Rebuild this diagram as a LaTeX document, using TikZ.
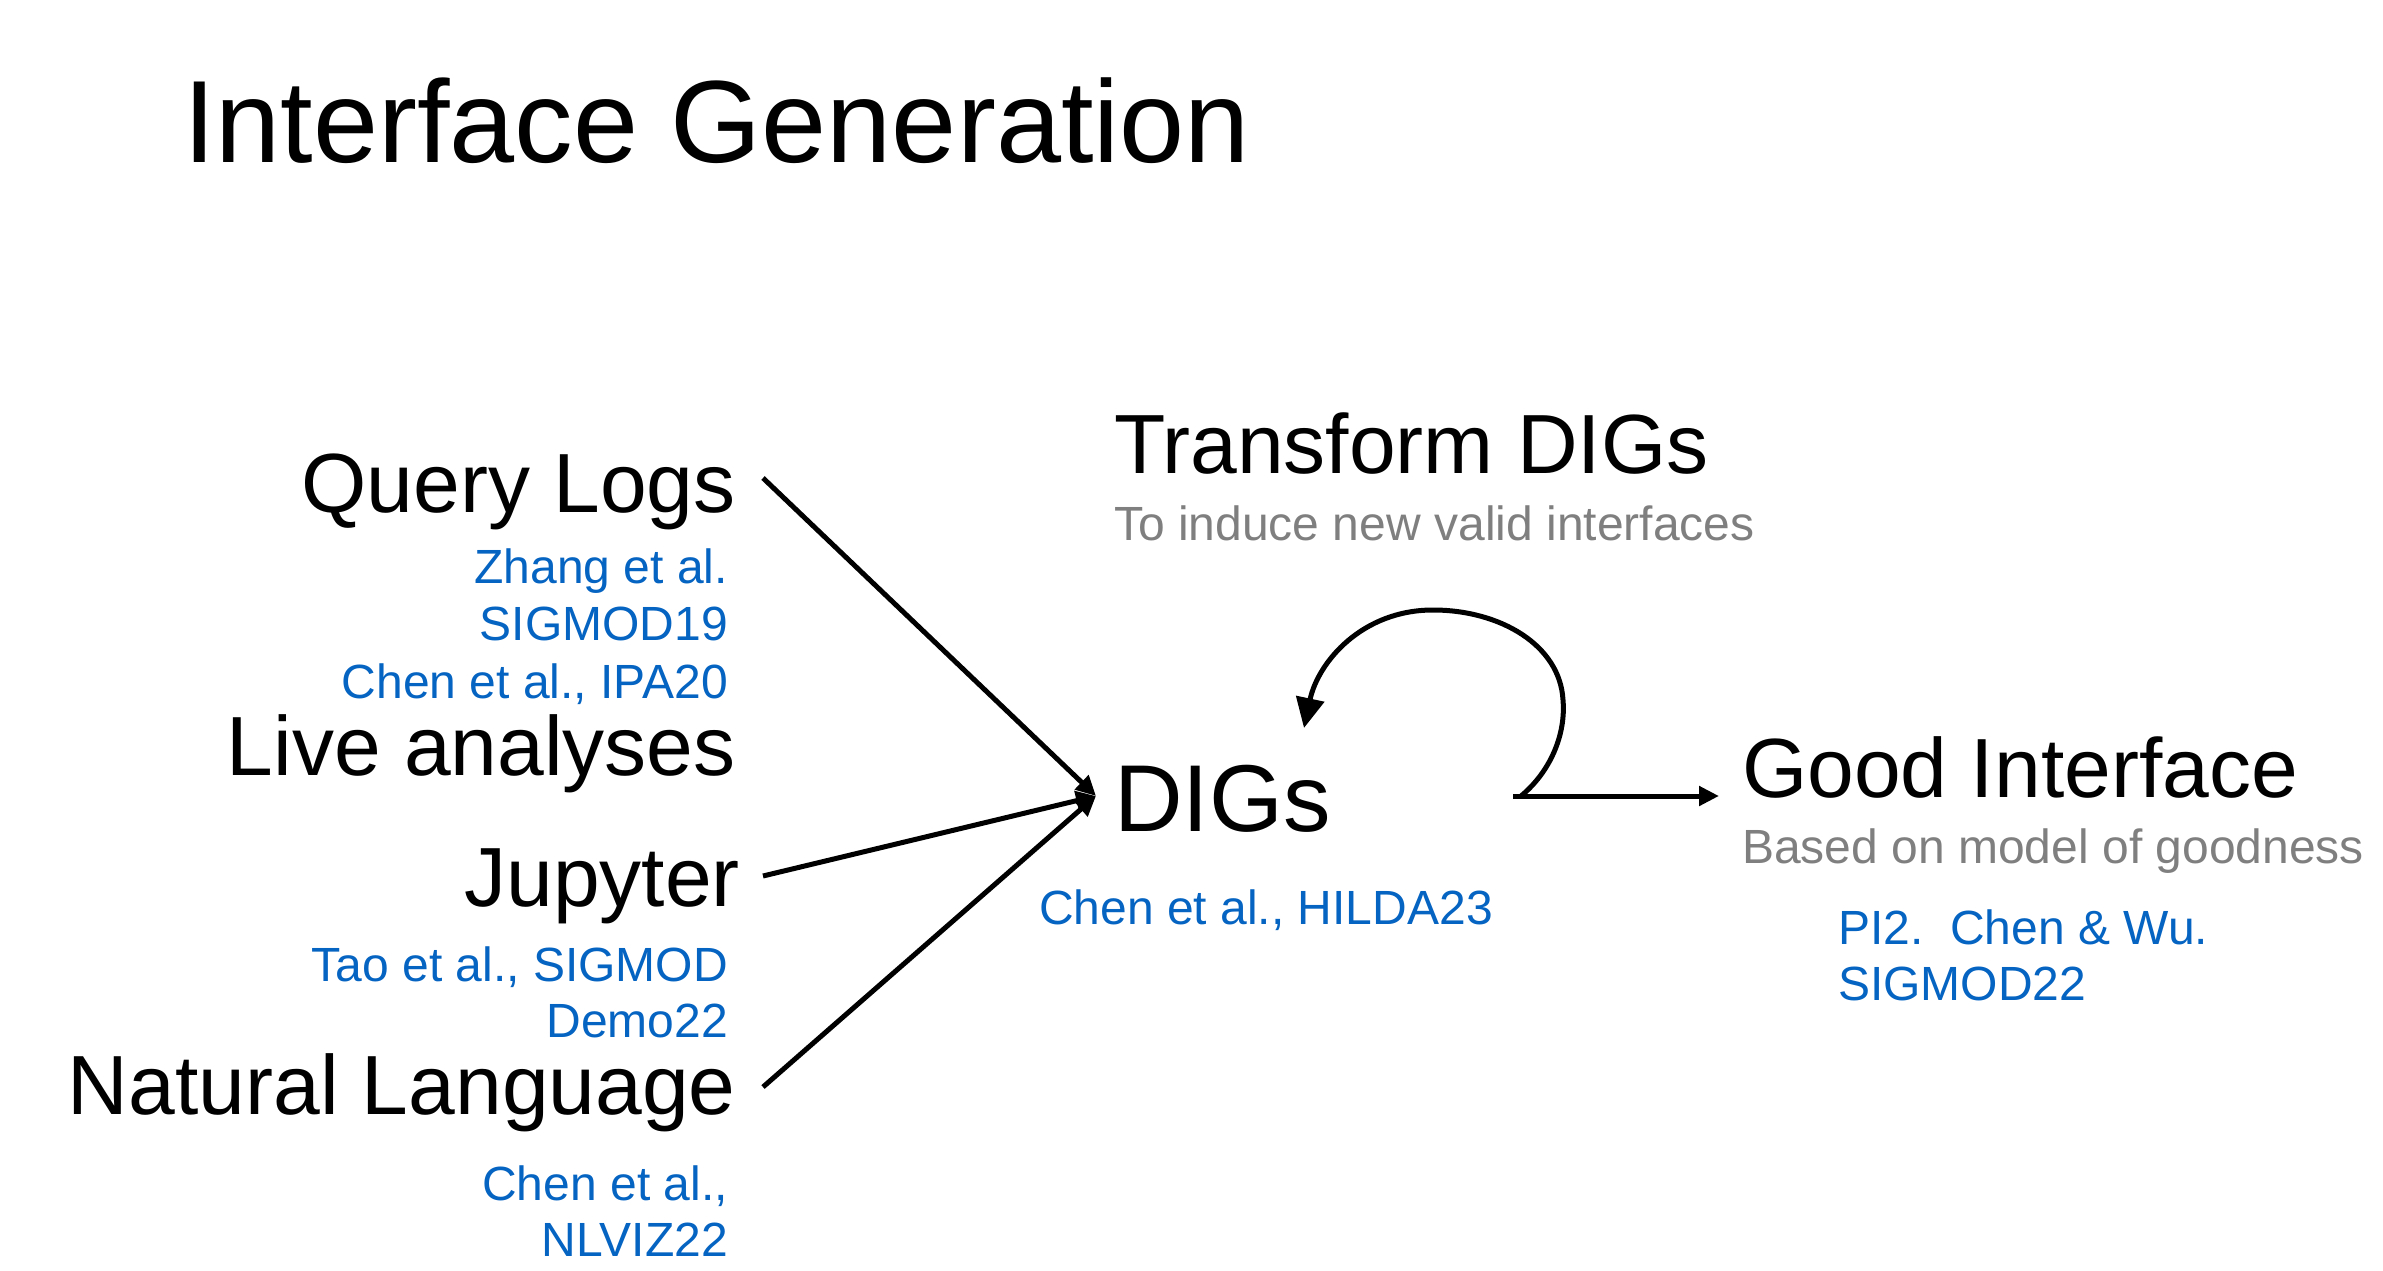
\documentclass[tikz,border=0pt]{standalone}
\usepackage{fontspec}
\setmainfont{Liberation Sans}
\usetikzlibrary{arrows.meta}
\definecolor{refblue}{HTML}{0563C1}
\definecolor{refgray}{HTML}{7F7F7F}
\tikzset{
  big/.style={inner sep=0pt, font=\fontsize{84}{84}\selectfont},
  title/.style={inner sep=0pt, font=\fontsize{117}{117}\selectfont},
  cite/.style={inner sep=0pt, text=refblue, font=\fontsize{48}{57}\selectfont},
  note/.style={inner sep=0pt, text=refgray, font=\fontsize{48}{48}\selectfont},
  conn/.style={line width=5pt, -{Triangle[length=20pt,width=19pt]}},
  loopconn/.style={line width=5pt, -{Triangle[length=30pt,width=28pt]}},
}
\begin{document}
\begin{tikzpicture}[x=1pt,y=-1pt]
\useasboundingbox (0,0) rectangle (2383,1271);
% title
\node[title, anchor=base west] (title) at (183,163) {Interface Generation};
% left labels
\node[big, anchor=base east] (ql) at (736,512) {Query Logs};
\node[cite, anchor=base east] (c1) at (728,583) {Zhang et al.};
\node[cite, anchor=base east] (c2) at (728,640) {SIGMOD19};
\node[cite, anchor=base east] (c3) at (728,698) {Chen et al., IPA20};
\node[big, anchor=base east] (la) at (736,775) {Live analyses};
\node[big, anchor=base east] (jp) at (740,906) {Jupyter};
\node[cite, anchor=base east] (c4) at (728,981) {Tao et al., SIGMOD};
\node[cite, anchor=base east] (c5) at (728,1037) {Demo22};
\node[big, anchor=base east] (nl) at (736,1114) {Natural Language};
\node[cite, anchor=base east] (c6) at (728,1200) {Chen et al.,};
\node[cite, anchor=base east] (c7) at (728,1256) {NLVIZ22};
% middle
\node[big, anchor=base west] (tr) at (1114,473) {Transform DIGs};
\node[note, anchor=base west] (trn) at (1114,540) {To induce new valid interfaces};
\node[inner sep=0pt, anchor=base west, font=\fontsize{95}{95}\selectfont] (digs) at (1114,831) {DIGs};
\node[cite, anchor=base west] (c8) at (1039,924) {Chen et al., HILDA23};
% right
\node[big, anchor=base west] (gi) at (1742,797) {Good Interface};
\node[note, anchor=base west] (gin) at (1742,863) {Based on model of goodness};
\node[cite, anchor=base west] (c9) at (1838,944) {PI2.\ \ Chen \& Wu.};
\node[cite, anchor=base west] (c10) at (1838,1000) {SIGMOD22};
% connector coordinates
\coordinate (qs) at (763,478);
\coordinate (js) at (763,876);
\coordinate (ns) at (763,1087);
\coordinate (dt) at (1096,796);
\coordinate (ls) at (1513,796);
\coordinate (le) at (1719,796);
\coordinate (lb) at (1521,796);
\coordinate (rs) at (1563,700);
\coordinate (top) at (1433,610);
\coordinate (lt) at (1304,728);
% connectors
\draw[conn] (qs) -- (dt);
\draw[conn] (js) -- (dt);
\draw[conn] (ns) -- (dt);
\draw[conn] (ls) -- (le);
\draw[loopconn] (lb) .. controls (1550,772) and (1566,735) .. (rs)
  .. controls (1560,645) and (1500,610) .. (top)
  .. controls (1362,610) and (1318,662) .. (lt);
\end{tikzpicture}
\end{document}
